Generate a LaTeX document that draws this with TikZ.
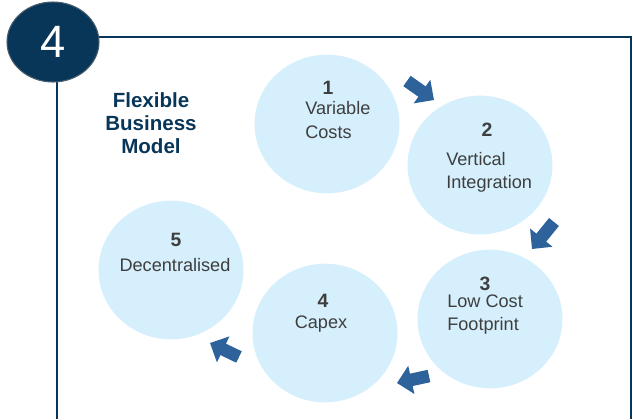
\documentclass[tikz,border=0pt]{standalone}
\usepackage{fontspec}
\setmainfont{Liberation Sans}
\usetikzlibrary{arrows.meta,shapes.geometric}

\definecolor{navy}{RGB}{8,54,88}
\definecolor{bubblefill}{RGB}{214,239,252}
\definecolor{flowblue}{RGB}{46,98,154}
\definecolor{inkgray}{RGB}{62,62,62}

\begin{document}
\begin{tikzpicture}[x=0.75pt,y=-0.75pt,
  bubble/.style={ellipse,fill=bubblefill,minimum width=108.75pt,minimum height=104pt,inner sep=0pt},
  stepnum/.style={text=inkgray,font=\fontsize{14.5}{17}\selectfont\bfseries},
  steptext/.style={text=inkgray,font=\fontsize{13.6}{17.3}\selectfont,inner sep=0pt},
  flow/.style={flowblue,line width=9.5pt,-{Triangle[length=11pt,width=21pt]}}]

  \useasboundingbox (0,0) rectangle (633,419);

  % open frame
  \draw[navy,line width=2pt] (57,419) -- (57,37) -- (631,37) -- (631,419);

  % numbered badge
  \node[ellipse,fill=navy,draw=gray!55!navy,line width=0.8pt,minimum width=69pt,minimum height=60pt,
        text=white,font=\fontsize{34}{34}\selectfont] (badge) at (53,42) {4};

  % heading
  \node[text=navy,font=\fontsize{15.4}{17.5}\selectfont\bfseries,align=center] (title) at (151,123)
    {Flexible\\Business\\Model};

  % bubbles
  \node[bubble] (c1) at (327,124) {};
  \node[bubble] (c2) at (480,165) {};
  \node[bubble] (c3) at (490,319) {};
  \node[bubble] (c4) at (325,333) {};
  \node[bubble] (c5) at (171,270) {};

  % bubble labels
  \node[stepnum] (n1) at (328,88) {1};
  \node[steptext,align=left,anchor=west] (t1) at (305,120) {Variable\\Costs};
  \node[stepnum] (n2) at (487,130) {2};
  \node[steptext,align=left,anchor=west] (t2) at (446,172) {Vertical\\Integration};
  \node[stepnum] (n3) at (485,284) {3};
  \node[steptext,align=left,anchor=west] (t3) at (447,315) {Low Cost\\Footprint};
  \node[stepnum] (n4) at (323,301) {4};
  \node[steptext] (t4) at (321,324) {Capex};
  \node[stepnum] (n5) at (176,240) {5};
  \node[steptext] (t5) at (175,265) {Decentralised};

  % arrows between bubbles
  \coordinate (a1s) at (407,81);  \coordinate (a1e) at (434,100);
  \coordinate (a2s) at (554,222); \coordinate (a2e) at (532,249);
  \coordinate (a3s) at (429,376); \coordinate (a3e) at (397,383);
  \coordinate (a4s) at (239,357); \coordinate (a4e) at (210,343);
  \draw[flow] (a1s) -- (a1e);
  \draw[flow] (a2s) -- (a2e);
  \draw[flow] (a3s) -- (a3e);
  \draw[flow] (a4s) -- (a4e);

\end{tikzpicture}
\end{document}
